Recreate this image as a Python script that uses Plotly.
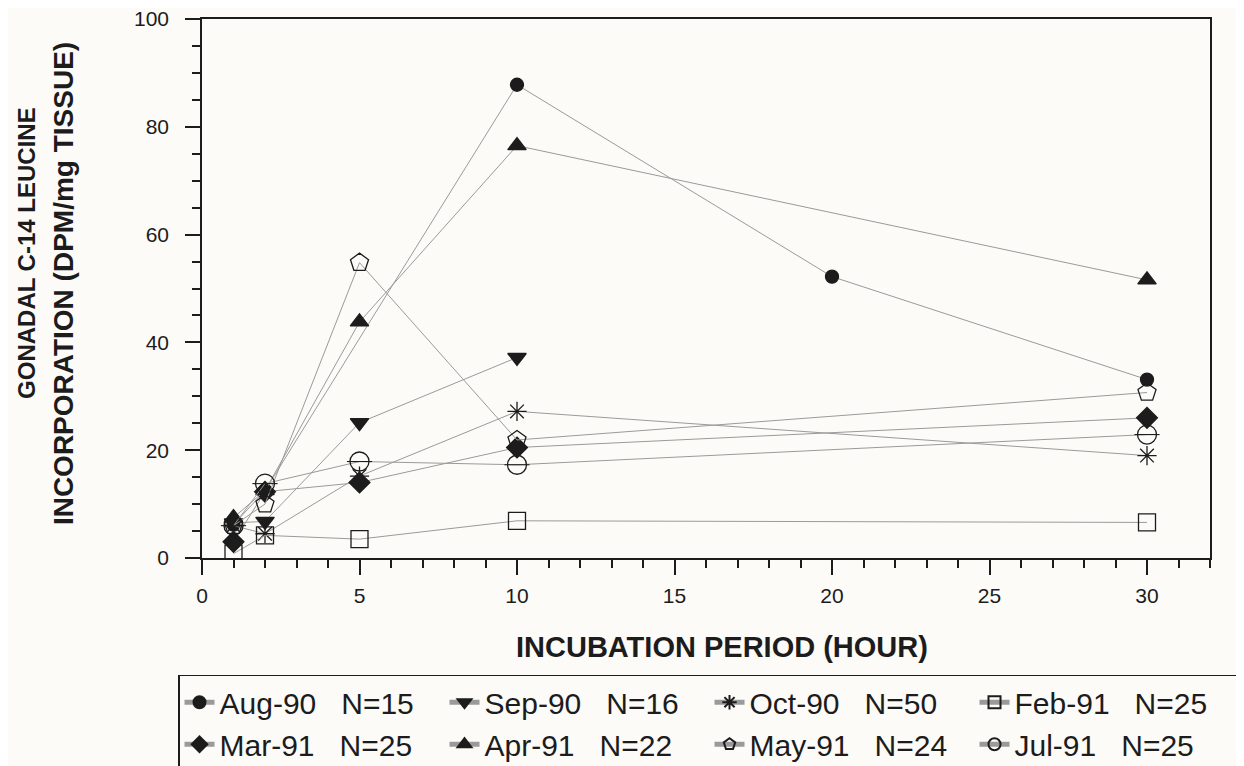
import plotly.graph_objects as go

# ---- data ----
series_names = ["Aug-90", "Sep-90", "Oct-90", "Feb-91", "Mar-91", "Apr-91", "May-91", "Jul-91"]
series_n = [15, 16, 50, 25, 25, 22, 24, 25]

aug90_x = [1, 2, 10, 20, 30]
aug90_y = [6.2, 12.5, 87.8, 52.2, 33.1]

sep90_x = [1, 2, 5, 10]
sep90_y = [6.5, 6.8, 25.1, 37.2]

oct90_x = [1, 2, 5, 10, 30]
oct90_y = [6.0, 4.5, 15.2, 27.2, 19.0]

feb91_x = [1, 2, 5, 10, 30]
feb91_y = [0.8, 4.2, 3.5, 6.9, 6.6]

mar91_x = [1, 2, 5, 10, 30]
mar91_y = [3.0, 12.3, 14.0, 20.5, 26.0]

apr91_x = [1, 2, 5, 10, 30]
apr91_y = [7.5, 12.5, 43.8, 76.5, 51.6]

may91_x = [1, 2, 5, 10, 30]
may91_y = [6.0, 10.0, 54.8, 21.9, 30.7]

jul91_x = [1, 2, 5, 10, 30]
jul91_y = [6.0, 13.8, 17.9, 17.3, 22.9]

xs = [aug90_x, sep90_x, oct90_x, feb91_x, mar91_x, apr91_x, may91_x, jul91_x]
ys = [aug90_y, sep90_y, oct90_y, feb91_y, mar91_y, apr91_y, may91_y, jul91_y]
symbols = ["circle", "triangle-down", "asterisk-open", "square-open",
           "diamond", "triangle-up", "pentagon-open", "circle-open"]
sizes = [13, 16, 16, 17, 16, 16, 19, 19]

FONT = "Liberation Sans, Arial, sans-serif"
INK = "#1c1c1c"
LINE = "#9a9a9a"
NB = "\u00a0"

fig = go.Figure()
for name, n, x, y, sym, sz in zip(series_names, series_n, xs, ys, symbols, sizes):
    fig.add_trace(go.Scatter(
        x=x, y=y, mode="lines+markers",
        name=f"{name}{NB*3}N={n}",
        line=dict(color=LINE, width=1),
        marker=dict(symbol=sym, size=sz, color=INK,
                    line=dict(color=INK, width=1.3)),
    ))

# horizontal bar inside the Jul-91 circles
fig.add_trace(go.Scatter(
    x=jul91_x, y=jul91_y, mode="markers", showlegend=False, hoverinfo="skip",
    marker=dict(symbol="line-ew-open", size=18, color=INK,
                line=dict(color=INK, width=1.1)),
))

axis_common = dict(
    showline=True, linecolor=INK, linewidth=1.5, mirror=True,
    showgrid=False, zeroline=False,
    ticks="outside", ticklen=15, tickwidth=1.5, tickcolor=INK,
    tickfont=dict(family=FONT, size=21, color=INK),
    ticklabeloverflow="allow",
)

fig.update_xaxes(
    range=[0, 32], tick0=0, dtick=5, ticklabelstandoff=3,
    minor=dict(dtick=1, tick0=0, ticks="outside", ticklen=8, tickwidth=1.5,
               tickcolor=INK, showgrid=False),
    **axis_common,
)
fig.update_yaxes(
    range=[0, 100], tick0=0, dtick=20, ticklabelstandoff=12,
    minor=dict(dtick=5, tick0=0, ticks="outside", ticklen=8, tickwidth=1.5,
               tickcolor=INK, showgrid=False),
    **axis_common,
)

fig.update_layout(
    width=1236, height=758,
    margin=dict(l=194, r=34, t=11, b=208, autoexpand=False),
    paper_bgcolor="#fcfbf8", plot_bgcolor="#fcfbf8",
    font=dict(family=FONT, color=INK),
    legend=dict(
        orientation="h", x=-0.0238, xanchor="left", y=-0.2165, yanchor="top",
        font=dict(family=FONT, size=30, color=INK),
        entrywidth=220, entrywidthmode="pixels",
        bordercolor=INK, borderwidth=1.5, bgcolor="rgba(0,0,0,0)",
        itemsizing="constant", tracegroupgap=0,
    ),
    annotations=[
        dict(text="<b>INCUBATION PERIOD (HOUR)</b>", xref="paper", yref="paper",
             x=0.516, y=-0.1645, showarrow=False, xanchor="center", yanchor="middle",
             font=dict(family=FONT, size=29, color=INK)),
        dict(text="<b>GONADAL C-14 LEUCINE</b>", xref="paper", yref="paper",
             x=-0.1736, y=0.566, showarrow=False, textangle=-90,
             xanchor="center", yanchor="middle",
             font=dict(family=FONT, size=24, color=INK)),
        dict(text="<b>INCORPORATION (DPM/mg TISSUE)</b>", xref="paper", yref="paper",
             x=-0.1379, y=0.510, showarrow=False, textangle=-90,
             xanchor="center", yanchor="middle",
             font=dict(family=FONT, size=28, color=INK)),
    ],
)

fig.write_html("out.html")
